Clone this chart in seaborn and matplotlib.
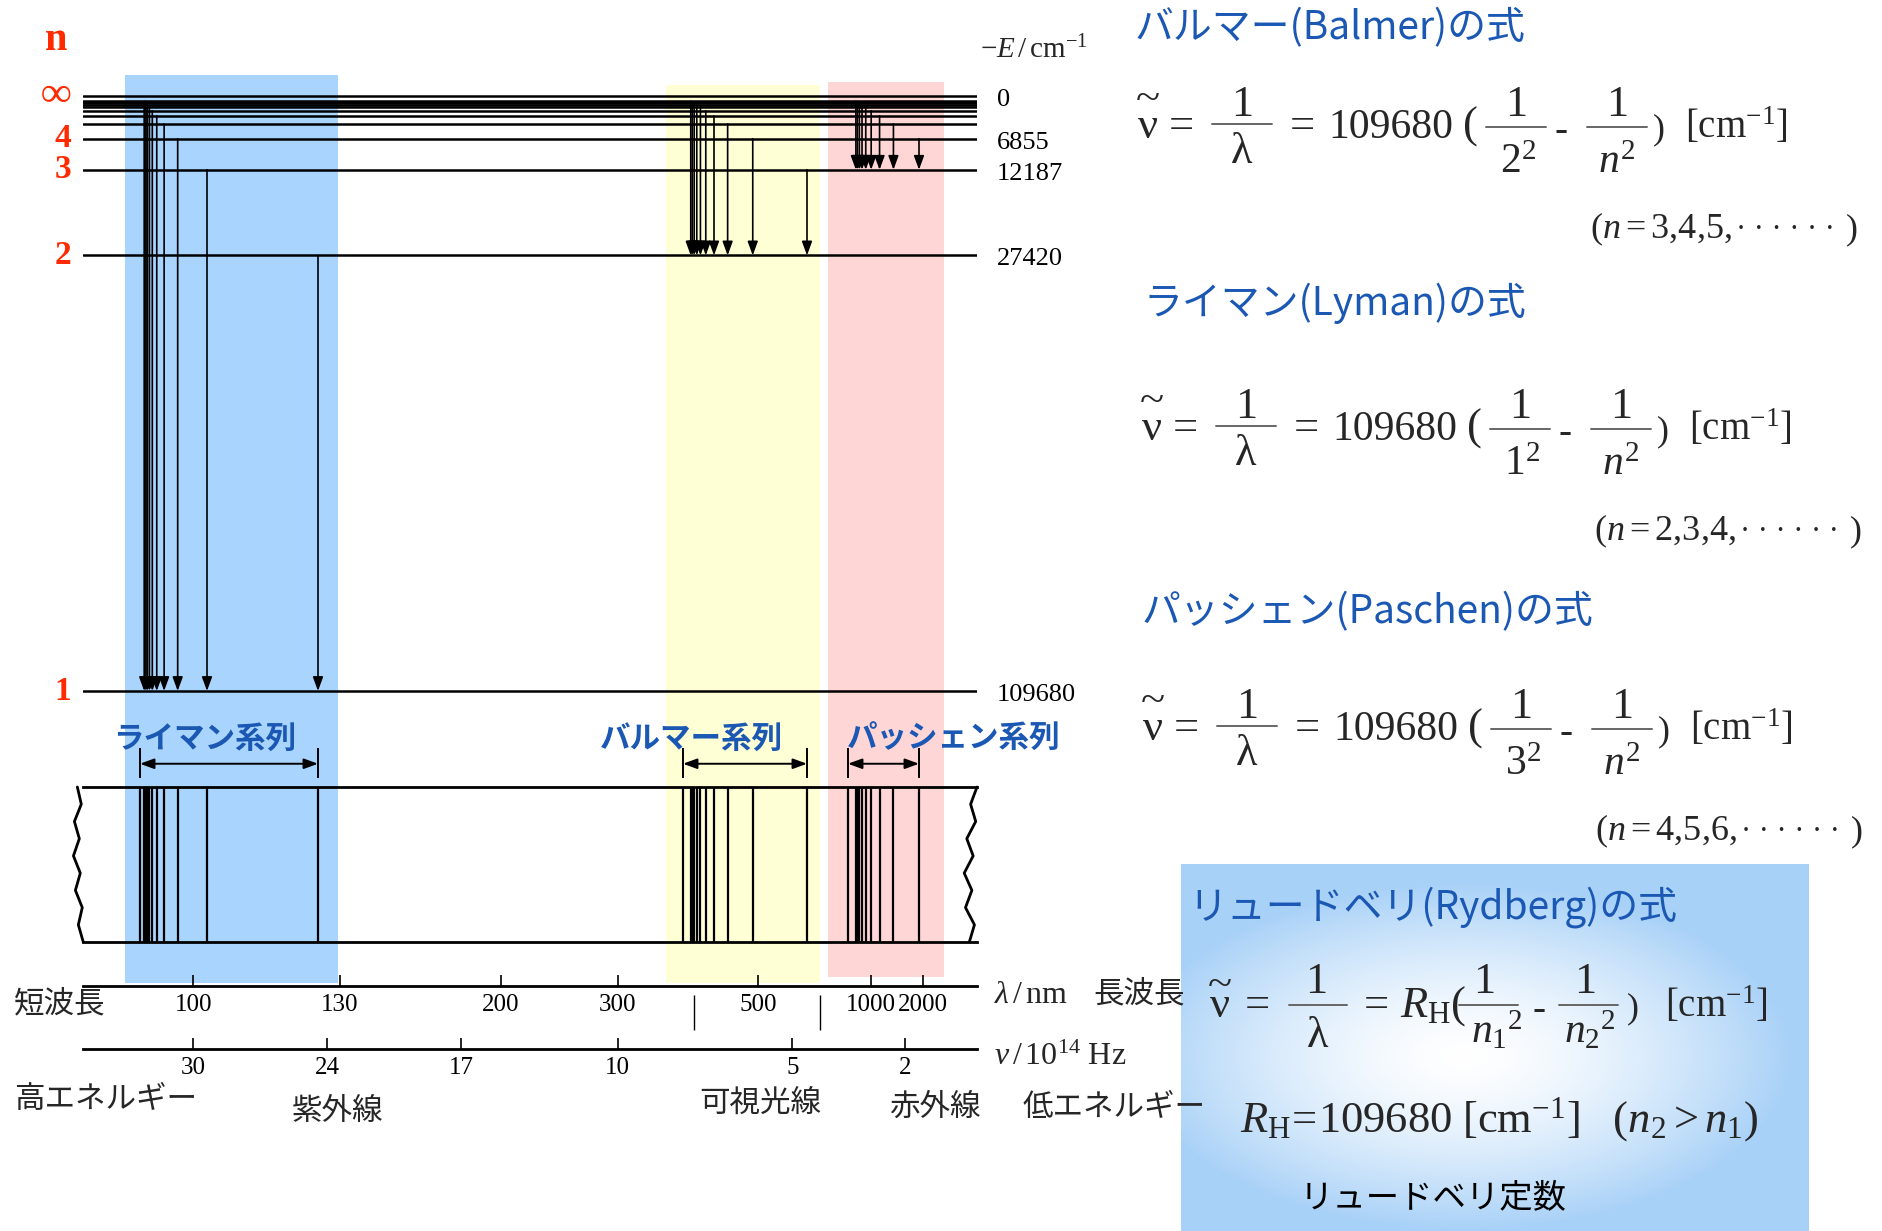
import numpy as np
import matplotlib
matplotlib.use("Agg")
import matplotlib.pyplot as plt
import seaborn as sns
from matplotlib.lines import Line2D

sns.set_theme(style="white")
plt.rcParams['font.family'] = ['Noto Sans CJK JP', 'DejaVu Sans']
plt.rcParams['mathtext.fontset'] = 'custom'
plt.rcParams['mathtext.rm'] = 'Liberation Serif'
plt.rcParams['mathtext.it'] = 'Liberation Serif:italic'
plt.rcParams['mathtext.bf'] = 'Liberation Serif:bold'

# ---------------- data ----------------
# hydrogen levels, -E in cm^-1
level_n = ['1', '2', '3', '4', '5', '6', '7', '8', '9', '10', '11', '12', '∞']
level_E = [109680, 27420, 12187, 6855, 4387, 3047, 2238, 1714, 1354, 1097, 906, 762, 0]
labelled_n = ['1', '2', '3', '4', '∞']
labelled_E = [109680, 27420, 12187, 6855, 0]

series_names = ['ライマン系列', 'バルマー系列', 'パッシェン系列']
series_lower = [0, 1, 2]              # index of the lower level in level_E
series_label_dx = [-27, -83, -1]      # label offset from series limit (px)

lam_ticks_nm = [100, 130, 200, 300, 500, 1000, 2000]
nu_ticks = [30, 24, 17, 10, 5, 2]     # 10^14 Hz
visible_edges_nm = [380, 700]
band_nm = [(89, 129), (345, 700), (730, 3300)]
band_colors = ['#a9d4fd', '#ffffd6', '#ffd6d6']
band_yspan = [(0.0, 1.0), (0.0, 0.989), (0.007, 0.992)]

formula_titles = ['バルマー(Balmer)の式', 'ライマン(Lyman)の式', 'パッシェン(Paschen)の式']
formula_lower = ['2', '1', '3']
formula_ranges = ['3{,}4{,}5{,}', '2{,}3{,}4{,}', '4{,}5{,}6{,}']
R_H = 109680

# schematic (non-linear) spectrum axis: wavenumber -> drawing position
axis_wn = [0, 5332, 12187, 15233, 27420, 33333, 50000, 76923, 82260, 97493, 109680]
axis_pos = [977, 919, 848, 807, 683, 618, 501, 340, 318, 207, 140]

BLUE = '#1a58b4'
RED = '#ff2a00'
SERIF = ['Liberation Serif', 'DejaVu Serif']
CJK = ['Noto Sans CJK JP', 'DejaVu Sans']

W, H = 1883, 1231
fig = plt.figure(figsize=(W / 100, H / 100), dpi=100)


def rect(x0, y0, x1, y1):
    return [x0 / W, 1 - y1 / H, (x1 - x0) / W, (y1 - y0) / H]


def _lin(x, xp, fp):
    x = np.asarray(x, dtype=float)
    xp = np.asarray(xp, dtype=float)
    fp = np.asarray(fp, dtype=float)
    y = np.interp(x, xp, fp)
    s0 = (fp[1] - fp[0]) / (xp[1] - xp[0])
    s1 = (fp[-1] - fp[-2]) / (xp[-1] - xp[-2])
    y = np.where(x < xp[0], fp[0] + (x - xp[0]) * s0, y)
    y = np.where(x > xp[-1], fp[-1] + (x - xp[-1]) * s1, y)
    return y


def pos_of(k):
    return _lin(k, axis_wn, axis_pos)


def wn_fwd(k):
    # increasing transform; the axis itself is inverted through xlim
    return -pos_of(k)


def wn_inv(t):
    return _lin(-np.asarray(t, dtype=float), axis_pos[::-1], axis_wn[::-1])


XLIM = (120000, 0)
x0_px, x1_px = float(pos_of(XLIM[0])), float(pos_of(XLIM[1]))


def use_wn_axis(ax):
    ax.set_xscale('function', functions=(wn_fwd, wn_inv))
    ax.set_xlim(*XLIM)


# energy axis (slightly compressed power scale)
P = 0.95


def e_fwd(e):
    e = np.asarray(e, dtype=float)
    return np.sign(e) * np.abs(e) ** P


def e_inv(t):
    t = np.asarray(t, dtype=float)
    return np.sign(t) * np.abs(t) ** (1 / P)


YLIM = (118000, -6000)
E_TOP_PX, E_BOT_PX = 96, 691
ppu = (E_BOT_PX - E_TOP_PX) / float(e_fwd(109680) - e_fwd(0))
lv_top = E_TOP_PX - float(e_fwd(0) - e_fwd(YLIM[1])) * ppu
lv_bot = E_BOT_PX + float(e_fwd(YLIM[0]) - e_fwd(109680)) * ppu

# ---------------- background bands ----------------
ax_bg = fig.add_axes(rect(x0_px, 75, x1_px, 983))
use_wn_axis(ax_bg)
for (lo, hi), col, (y0, y1) in zip(band_nm, band_colors, band_yspan):
    ax_bg.axvspan(1e7 / lo, 1e7 / hi, y0, y1, color=col, lw=0)
ax_bg.set_xlim(*XLIM)
ax_bg.axis('off')

# ---------------- energy levels ----------------
ax_lv = fig.add_axes(rect(x0_px, lv_top, x1_px, lv_bot))
use_wn_axis(ax_lv)
ax_lv.set_yscale('function', functions=(e_fwd, e_inv))
ax_lv.set_ylim(*YLIM)
ax_lv.axis('off')

for e in level_E:
    ax_lv.axhline(e, color='black', lw=1.8)

arrow_style = dict(arrowstyle='-|>,head_length=0.6,head_width=0.22', color='black',
                   lw=1.2, shrinkA=0, shrinkB=0, mutation_scale=14)
strip_wn = []
for li in series_lower:
    lo = level_E[li]
    for e in level_E[li + 1:]:
        wn = lo - e
        strip_wn.append(wn)
        if e > 0:
            ax_lv.annotate('', xy=(wn, lo), xytext=(wn, e), arrowprops=arrow_style)

for n, e in zip(labelled_n, labelled_E):
    ax_lv.annotate(n, xy=(0, e), xycoords=('axes fraction', 'data'), xytext=(-12, 0),
                   textcoords='offset pixels', ha='right', va='center', color=RED,
                   fontsize=31 if n == '∞' else 24, fontweight='bold', family=SERIF)
    ax_lv.annotate(f'{e}', xy=(1, e), xycoords=('axes fraction', 'data'), xytext=(20, -4),
                   textcoords='offset pixels', ha='left', va='center', color='black',
                   fontsize=19, family=SERIF)
ax_lv.set_xlim(*XLIM)

fig.text(56 / W, 1 - 40 / H, 'n', color=RED, fontsize=29, fontweight='bold',
         family=SERIF, ha='center', va='center')
fig.text(980 / W, 1 - 50 / H, r'$-E\,/\,\mathrm{cm}^{-1}$', fontsize=21,
         ha='left', va='center')

# ---------------- spectrum strip ----------------
ax_sp = fig.add_axes(rect(x0_px, 787, x1_px, 942))
use_wn_axis(ax_sp)
ax_sp.set_ylim(0, 1)
ax_sp.patch.set_visible(False)
for s in ['left', 'right']:
    ax_sp.spines[s].set_visible(False)
for s in ['top', 'bottom']:
    ax_sp.spines[s].set_color('black')
    ax_sp.spines[s].set_linewidth(2)
ax_sp.set_xticks([])
ax_sp.set_yticks([])
ax_sp.vlines(strip_wn, 0, 1, color='black', lw=1.6)

wig_y = np.linspace(0, 1, 10)
wig = np.array([0, -0.5, -0.1, -0.8, -0.3, -1.0, -0.4, -0.9, -0.2, -0.6]) * 0.011
ax_sp.plot(wig, wig_y, transform=ax_sp.transAxes, color='black', lw=2, clip_on=False)
ax_sp.plot(1 + wig[::-1] * 1.3, wig_y, transform=ax_sp.transAxes, color='black', lw=2,
           clip_on=False)

tr = ax_sp.get_xaxis_transform()
for name, li, dx in zip(series_names, series_lower, series_label_dx):
    lim = level_E[li]
    first = level_E[li] - level_E[li + 1]
    ax_sp.annotate('', xy=(lim, 1.15), xytext=(first, 1.15), xycoords=tr,
                   arrowprops=dict(arrowstyle='<|-|>,head_length=0.6,head_width=0.22',
                                   color='black', lw=1.4, shrinkA=0, shrinkB=0,
                                   mutation_scale=14))
    ax_sp.vlines([lim, first], 1.06, 1.25, transform=tr, color='black', lw=1.4,
                 clip_on=False)
    ax_sp.annotate(name, xy=(lim, 1.31), xycoords=tr, xytext=(dx, 0),
                   textcoords='offset pixels', ha='left', va='center', color=BLUE,
                   fontsize=22, fontweight='bold', family=CJK)
ax_sp.set_xlim(*XLIM)
ax_sp.set_ylim(0, 1)


# ---------------- rulers ----------------
def ruler(y_px, ticks_wn, labels):
    ax = fig.add_axes(rect(x0_px, y_px - 30, x1_px, y_px))
    use_wn_axis(ax)
    ax.set_ylim(0, 1)
    ax.patch.set_visible(False)
    sns.despine(ax=ax, left=True, top=True, right=True)
    ax.spines['bottom'].set_color('black')
    ax.spines['bottom'].set_linewidth(2)
    ax.set_yticks([])
    ax.set_xticks(ticks_wn)
    ax.set_xticklabels(labels, family=SERIF, fontsize=18)
    ax.tick_params(axis='x', direction='in', length=8, width=1.2, pad=6,
                   colors='black', bottom=True)
    ax.set_xlim(*XLIM)
    return ax


ax_lam = ruler(986, [1e7 / v for v in lam_ticks_nm], [str(v) for v in lam_ticks_nm])
ax_lam.vlines([1e7 / v for v in visible_edges_nm], -0.3, -1.47,
              transform=ax_lam.get_xaxis_transform(), color='black', lw=1, clip_on=False)
ax_lam.set_xlim(*XLIM)
ax_nu = ruler(1049, [v * 1e14 / 2.99792458e10 for v in nu_ticks], [str(v) for v in nu_ticks])


def ptext(x, y, s, size=22, ha='left', va='center', family=CJK, **kw):
    return fig.text(x / W, 1 - y / H, s, fontsize=size, ha=ha, va=va, family=family, **kw)


ptext(14, 1004, '短波長')
ptext(14, 1099, '高エネルギー')
ptext(292, 1111, '紫外線')
ptext(699, 1103, '可視光線')
ptext(889, 1107, '赤外線')
ptext(1023, 1107, '低エネルギー')
ptext(994, 994, r'$\lambda\,/\,\mathrm{nm}$', size=23)
ptext(1093, 994, '長波長')
ptext(994, 1056, r'$\nu\,/\,10^{14}\ \mathrm{Hz}$', size=23)

# ---------------- Rydberg box background ----------------
ax_box = fig.add_axes(rect(1181, 864, 1809, 1231))
ax_box.axis('off')
gx, gy = np.meshgrid(np.linspace(-1, 1, 320), np.linspace(-1, 1, 200))
rr = np.sqrt(((gx + 0.1) / 1.05) ** 2 + ((gy - 0.05) / 0.95) ** 2)
tt = np.clip(rr, 0, 1)[..., None] ** 1.5
img = np.array([1.0, 1.0, 1.0]) * (1 - tt) + np.array([0.66, 0.82, 0.97]) * tt
ax_box.imshow(img, aspect='auto', extent=(0, 1, 0, 1), interpolation='bilinear')


# ---------------- formulas ----------------
def ftxt(x, y, s, size=32, ha='center', va='baseline', **kw):
    return fig.text(x / W, 1 - y / H, s, fontsize=size, ha=ha, va=va, family=SERIF, **kw)


def fbar(x0, x1, y):
    fig.add_artist(Line2D([x0 / W, x1 / W], [1 - y / H] * 2, transform=fig.transFigure,
                          color='#666666', lw=1.4))


def series_formula(B, lower, nrange, dx):
    ftxt(1148 + dx, B, 'ν')
    ftxt(1148 + dx, B - 27, '~')
    ftxt(1181 + dx, B, '=')
    ftxt(1242 + dx, B - 22, '1')
    fbar(1212 + dx, 1272 + dx, B - 14)
    ftxt(1242 + dx, B + 25, 'λ')
    ftxt(1302 + dx, B, '=')
    ftxt(1328 + dx, B, str(R_H), ha='left', size=30)
    ftxt(1463 + dx, B, '(', ha='left')
    ftxt(1516 + dx, B - 22, '1')
    fbar(1486 + dx, 1546 + dx, B - 11)
    ftxt(1518 + dx, B + 35, r'$%s^2$' % lower, size=30)
    ftxt(1561 + dx, B + 3, '-', size=28)
    ftxt(1617 + dx, B - 22, '1')
    fbar(1587 + dx, 1647 + dx, B - 11)
    ftxt(1617 + dx, B + 35, r'$n^2$', size=30)
    ftxt(1653 + dx, B, ')', ha='left', size=26)
    ftxt(1685 + dx, B, r'$[\mathrm{cm}^{-1}]$', ha='left', size=28)
    ftxt(1590 + dx, B + 100, r'$(n = %s$' % nrange, ha='left', size=26)
    ftxt(1736 + dx, B + 100, '· · · · · ·', ha='left', size=22)
    ftxt(1846 + dx, B + 100, ')', ha='left', size=26)


title_pos = [(1135, 28), (1144, 303), (1142, 612)]
formula_base = [138, 440, 740]
formula_dx = [0, 4, 5]
for title, (tx, ty), B, lower, nr, dx in zip(formula_titles, title_pos, formula_base,
                                              formula_lower, formula_ranges, formula_dx):
    ptext(tx, ty, title, size=28, color=BLUE)
    series_formula(B, lower, nr, dx)

# Rydberg
ptext(1188, 907, 'リュードベリ(Rydberg)の式', size=28, color=BLUE)
B = 1017
ftxt(1220, B, 'ν')
ftxt(1220, B - 20, '~')
ftxt(1257, B, '=')
ftxt(1316, B - 24, '1')
fbar(1289, 1347, B - 12)
ftxt(1318, B + 30, 'λ')
ftxt(1376, B, '=')
ftxt(1400, B, r'$R_{\mathrm{H}}($', ha='left')
ftxt(1484, B - 24, '1')
fbar(1459, 1518, B - 12)
ftxt(1497, B + 26, r'${n_1}^{2}$', size=30)
ftxt(1539, B + 3, '-', size=28)
ftxt(1585, B - 24, '1')
fbar(1559, 1618, B - 12)
ftxt(1590, B + 26, r'${n_2}^{2}$', size=30)
ftxt(1627, B, ')', ha='left', size=26)
ftxt(1665, B, r'$[\mathrm{cm}^{-1}]$', ha='left', size=28)
ftxt(1240, 1132, r'$R_{\mathrm{H}}\!=\!%d\ [\mathrm{cm}^{-1}]\ \ \ (n_2 > n_1)$' % R_H,
     ha='left', size=32)
ptext(1300, 1198, 'リュードベリ定数', size=24, color='black')

fig.savefig('out.png', dpi=100)
